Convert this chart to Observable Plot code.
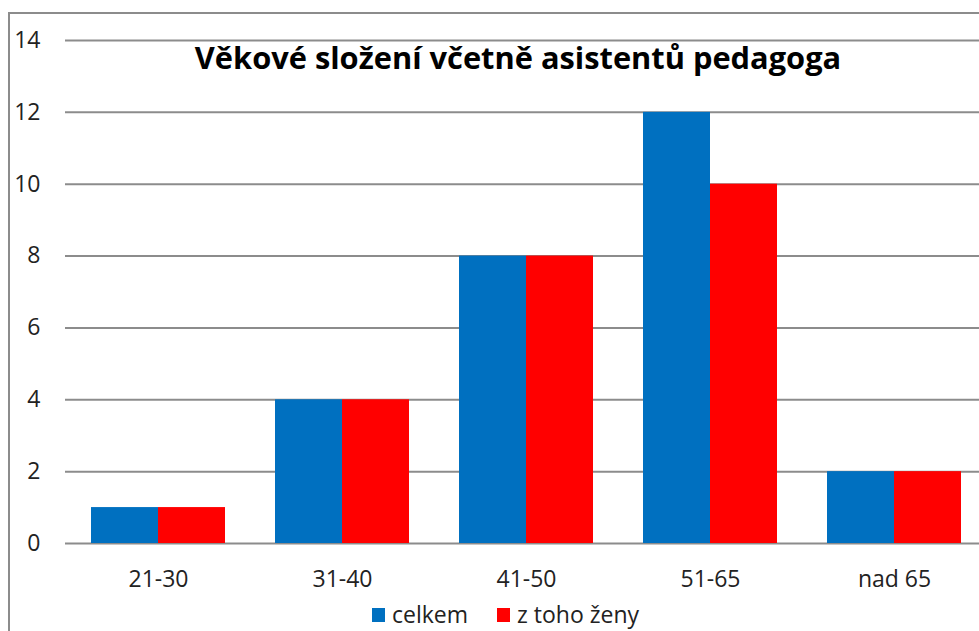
<!DOCTYPE html>
<html>
<head>
<meta charset="utf-8">
<script src="https://cdn.jsdelivr.net/npm/d3@7"></script>
<script src="https://cdn.jsdelivr.net/npm/@observablehq/plot@0.6"></script>
<style>
  html, body { margin: 0; padding: 0; background: #fff; overflow: hidden; width: 979px; height: 631px; }
  #wrap { position: relative; width: 979px; height: 631px; overflow: hidden; font-family: "Open Sans", sans-serif; }
  #frame { position: absolute; left: 8px; top: 12px; width: 1100px; height: 800px; border: 2px solid #8c8c8c; box-sizing: border-box; }
  #chart { position: absolute; left: 0; top: 0; width: 995px; }
  #chart svg { max-width: none !important; }
  #title { position: absolute; left: 0; width: 1036px; top: 42px; text-align: center; font-weight: bold; font-size: 30.8px; line-height: 1; color: #000; white-space: nowrap; }
  #legend { position: absolute; left: 0; width: 1011px; top: 603px; display: flex; justify-content: center; align-items: center; font-size: 23px; line-height: 1; color: #222; }
  .sw { display: inline-block; width: 13px; height: 14px; margin-right: 7px; }
  .item { display: flex; align-items: center; }
</style>
</head>
<body>
<div id="wrap">
  <div id="frame"></div>
  <div id="chart"></div>
  <div id="title">Věkové složení včetně asistentů pedagoga</div>
  <div id="legend"></div>
</div>
<script>
const categories = ["21-30", "31-40", "41-50", "51-65", "nad 65"];
const celkem = [1, 4, 8, 12, 2];
const zeny = [1, 4, 8, 10, 2];
const seriesNames = ["celkem", "z toho ženy"];
const seriesColors = ["#0070C0", "#FF0000"];
const yTicks = [0, 2, 4, 6, 8, 10, 12, 14];

const dataCelkem = categories.map((c, i) => ({category: c, value: celkem[i]}));
const dataZeny = categories.map((c, i) => ({category: c, value: zeny[i]}));

const shadow = "drop-shadow(2px 2px 2px rgba(0,0,0,0.3))";

const chart = Plot.plot({
  width: 995,
  height: 631,
  marginTop: 40,
  marginBottom: 88,
  marginLeft: 65,
  marginRight: 9,
  style: {fontFamily: "Open Sans, sans-serif", fontSize: "23px", color: "#222", background: "transparent", maxWidth: "none"},
  x: {domain: categories, padding: 0, label: null},
  y: {domain: [0, 14], label: null},
  marks: [
    Plot.gridY(yTicks, {stroke: "#8c8c8c", strokeOpacity: 1, strokeWidth: 2}),
    Plot.barY(dataCelkem, {x: "category", y: "value", fill: seriesColors[0], insetLeft: 25, insetRight: 92, style: {filter: shadow}}),
    Plot.barY(dataZeny, {x: "category", y: "value", fill: seriesColors[1], insetLeft: 92, insetRight: 25, style: {filter: shadow}}),
    Plot.axisY({ticks: yTicks, tickSize: 0, tickPadding: 25, fontSize: 23, label: null}),
    Plot.axisX({tickSize: 0, tickPadding: 27, fontSize: 23, label: null})
  ]
});
document.getElementById("chart").appendChild(chart);

const legend = document.getElementById("legend");
seriesNames.forEach((name, i) => {
  const item = document.createElement("div");
  item.className = "item";
  if (i > 0) item.style.marginLeft = "29px";
  const sw = document.createElement("span");
  sw.className = "sw";
  sw.style.background = seriesColors[i];
  const t = document.createElement("span");
  t.textContent = name;
  item.appendChild(sw);
  item.appendChild(t);
  legend.appendChild(item);
});
</script>
</body>
</html>
